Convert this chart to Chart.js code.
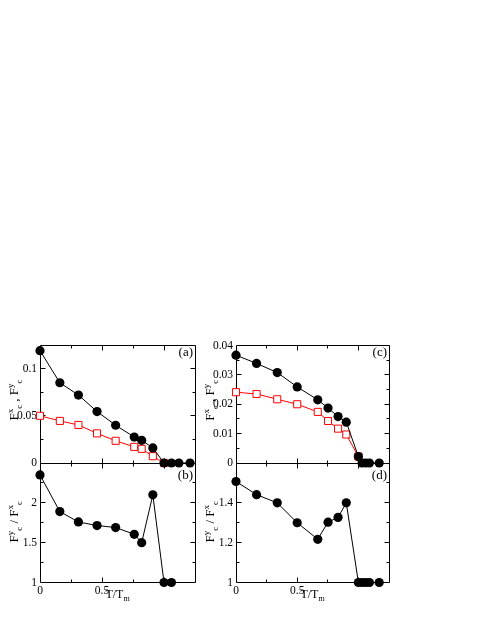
<!DOCTYPE html>
<html>
<head>
<meta charset="utf-8">
<script src="https://cdn.jsdelivr.net/npm/chart.js@4.4.1/dist/chart.umd.min.js"></script>
<style>
  html, body { margin: 0; padding: 0; background: #fff; }
  body { width: 485px; height: 627px; position: relative; overflow: hidden; }
  canvas { position: absolute; left: 0; top: 0; }
</style>
</head>
<body>
<canvas id="pa" width="485" height="627"></canvas>
<canvas id="pb" width="485" height="627"></canvas>
<canvas id="pc" width="485" height="627"></canvas>
<canvas id="pd" width="485" height="627"></canvas>
<script>
// left column: T/Tm positions
const tLeft = [0, 0.16, 0.31, 0.46, 0.61, 0.76, 0.82, 0.91, 1.0, 1.06, 1.12, 1.21];
const fyA = [0.119, 0.085, 0.072, 0.0545, 0.040, 0.0275, 0.024, 0.016, 0, 0, 0, 0];
const fxA = [0.050, 0.0446, 0.0403, 0.0314, 0.0235, 0.0171, 0.015, 0.0072, 0];
const ratioB = [2.35, 1.89, 1.76, 1.715, 1.69, 1.605, 1.50, 2.10, 1, 1];

// right column
const tRight = [0, 0.168, 0.337, 0.5, 0.668, 0.752, 0.834, 0.901, 1.0, 1.03, 1.06, 1.09, 1.17];
const fyC = [0.0367, 0.0339, 0.0308, 0.0259, 0.0215, 0.0187, 0.0158, 0.0139, 0.0022, 0, 0, 0, 0];
const fxC = [0.0241, 0.0235, 0.0217, 0.0200, 0.0174, 0.0143, 0.0117, 0.0097, 0.0022];
const ratioD = [1.507, 1.441, 1.40, 1.30, 1.217, 1.303, 1.327, 1.40, 1, 1, 1, 1, 1];

const SERIF = "'Liberation Serif', 'Times New Roman', serif";
Chart.defaults.font.family = SERIF;
Chart.defaults.color = '#000';

const pts = (xs, ys) => ys.map((v, i) => ({ x: xs[i], y: v }));

function keepTicks(step, top) {
  return scale => {
    scale.ticks = scale.ticks.filter(t => {
      const r = t.value / step;
      return Math.abs(r - Math.round(r)) < 1e-6 && t.value <= top + 1e-9;
    });
  };
}
const fmt = v => String(parseFloat(Number(v).toFixed(4)));

// frame with inward ticks on all four sides (xmgrace style)
const framePlugin = {
  id: 'frame',
  beforeDatasetsDraw(chart, args, o) {
    const { ctx, chartArea: a, scales: { x, y } } = chart;
    const h = v => Math.floor(v) + 0.5;
    const L = h(a.left), R = h(a.right), T = h(a.top), B = h(a.bottom);
    ctx.save();
    ctx.strokeStyle = '#000';
    ctx.lineWidth = 1;
    ctx.beginPath();
    ctx.rect(L, T, R - L, B - T);
    const n = Math.round((x.max - x.min) / o.xMinor);
    for (let i = 1; i < n; i++) {
      const px = h(x.getPixelForValue(x.min + i * o.xMinor));
      const len = i % 2 === 0 ? 5 : 3;
      ctx.moveTo(px, B); ctx.lineTo(px, B - len);
      ctx.moveTo(px, T); ctx.lineTo(px, T + len);
    }
    const m = Math.round((y.max - y.min) / o.yMinor);
    for (let i = 1; i < m; i++) {
      const py = h(y.getPixelForValue(y.min + i * o.yMinor));
      const len = i % 2 === 0 ? 5 : 3;
      ctx.moveTo(L, py); ctx.lineTo(L + len, py);
      ctx.moveTo(R, py); ctx.lineTo(R - len, py);
    }
    ctx.stroke();
    ctx.restore();
  }
};

// text with super/subscripts: segs = [[text, 0|1|-1], ...]
function richWidth(ctx, segs, size, small) {
  let w = 0;
  for (const [t, s] of segs) {
    ctx.font = (s ? small : size) + 'px ' + SERIF;
    w += ctx.measureText(t).width;
  }
  return w;
}
function drawRich(ctx, segs, size, small, x0) {
  let x = x0;
  for (const [t, s] of segs) {
    ctx.font = (s ? small : size) + 'px ' + SERIF;
    const dy = s === 1 ? -size * 0.42 : s === -1 ? size * 0.28 : 0;
    ctx.fillText(t, x, dy);
    x += ctx.measureText(t).width;
  }
}

const decoPlugin = {
  id: 'deco',
  afterDraw(chart, args, o) {
    const { ctx, chartArea: a } = chart;
    ctx.save();
    ctx.fillStyle = '#000';
    ctx.textBaseline = 'alphabetic';
    ctx.textAlign = 'left';
    // y title, rotated
    const w = richWidth(ctx, o.ytitle, 13, 9);
    ctx.save();
    ctx.translate(a.left - 22, (a.top + a.bottom) / 2 + o.yDy);
    ctx.rotate(-Math.PI / 2);
    drawRich(ctx, o.ytitle, 13, 9, -w / 2);
    ctx.restore();
    // x title
    if (o.xtitle) {
      const xw = richWidth(ctx, o.xtitle, 12, 8);
      ctx.save();
      ctx.translate((a.left + a.right) / 2, a.bottom + 15);
      drawRich(ctx, o.xtitle, 12, 8, -xw / 2);
      ctx.restore();
    }
    // panel letter
    ctx.font = '13px ' + SERIF;
    ctx.textAlign = 'right';
    ctx.textBaseline = 'middle';
    ctx.fillText(o.letter, a.right - 2, a.top + o.letterDy);
    ctx.restore();
  }
};

const yFx = [['F', 0], ['x', 1], ['c', -1], [' , ', 0], ['F', 0], ['y', 1], ['c', -1]];
const yRatio = [['F', 0], ['y', 1], ['c', -1], [' / ', 0], ['F', 0], ['x', 1], ['c', -1]];
const xTitle = [['T/T', 0], ['m', -1]];

function blackSet(data) {
  return {
    data, borderColor: '#000', borderWidth: 1, backgroundColor: '#000',
    pointStyle: 'circle', pointRadius: 4.6, pointBorderWidth: 0,
    pointBackgroundColor: '#000', tension: 0, clip: false
  };
}
function redSet(data) {
  return {
    data, borderColor: 'red', borderWidth: 1, backgroundColor: '#fff',
    pointStyle: 'rect', pointRadius: 5, pointBorderWidth: 1,
    pointBorderColor: 'red', pointBackgroundColor: '#fff', tension: 0, clip: false
  };
}

function makePanel(id, datasets, cfg) {
  new Chart(document.getElementById(id), {
    type: 'scatter',
    data: { datasets },
    options: {
      responsive: false,
      animation: false,
      showLine: true,
      layout: { padding: cfg.padding },
      plugins: { legend: { display: false }, tooltip: { enabled: false }, deco: cfg.deco,
                 frame: { xMinor: 0.25, yMinor: cfg.yMinor } },
      scales: {
        x: {
          type: 'linear', min: 0, max: 1.25,
          grid: { display: false, drawTicks: false }, border: { display: false },
          ticks: { display: cfg.showX, stepSize: 0.5, padding: 2, font: { size: 11.5 }, callback: fmt },
          afterBuildTicks: keepTicks(0.5, 1),
          afterFit: s => { s.height = cfg.showX ? 20 : 0; }
        },
        y: {
          min: cfg.yMin, max: cfg.yMax,
          grid: { display: false, drawTicks: false }, border: { display: false },
          ticks: { stepSize: cfg.yMajor, padding: 3, font: { size: 11.5 }, callback: fmt },
          afterBuildTicks: keepTicks(cfg.yMajor, cfg.yTop),
          afterFit: s => { s.width = 40; }
        }
      }
    },
    plugins: [framePlugin, decoPlugin]
  });
}

makePanel('pa', [blackSet(pts(tLeft, fyA)), redSet(pts(tLeft, fxA))], {
  padding: { left: 0, right: 290, top: 345, bottom: 164 },
  yMin: 0, yMax: 0.125, yMajor: 0.05, yMinor: 0.025, yTop: 0.1, showX: false,
  deco: { ytitle: yFx, yDy: -4, letter: '(a)', letterDy: 8 }
});
makePanel('pb', [blackSet(pts(tLeft, ratioB))], {
  padding: { left: 0, right: 290, top: 463, bottom: 24.5 },
  yMin: 1, yMax: 2.5, yMajor: 0.5, yMinor: 0.25, yTop: 2, showX: true,
  deco: { ytitle: yRatio, yDy: -1, xtitle: xTitle, letter: '(b)', letterDy: 13 }
});
makePanel('pc', [blackSet(pts(tRight, fyC)), redSet(pts(tRight, fxC))], {
  padding: { left: 196, right: 96, top: 345.5, bottom: 164 },
  yMin: 0, yMax: 0.04, yMajor: 0.01, yMinor: 0.005, yTop: 0.04, showX: false,
  deco: { ytitle: yFx, yDy: -4, letter: '(c)', letterDy: 7.5 }
});
makePanel('pd', [blackSet(pts(tRight, ratioD))], {
  padding: { left: 196, right: 96, top: 463, bottom: 24.5 },
  yMin: 1, yMax: 1.6, yMajor: 0.2, yMinor: 0.1, yTop: 1.4, showX: true,
  deco: { ytitle: yRatio, yDy: -1, xtitle: xTitle, letter: '(d)', letterDy: 13 }
});
</script>
</body>
</html>
